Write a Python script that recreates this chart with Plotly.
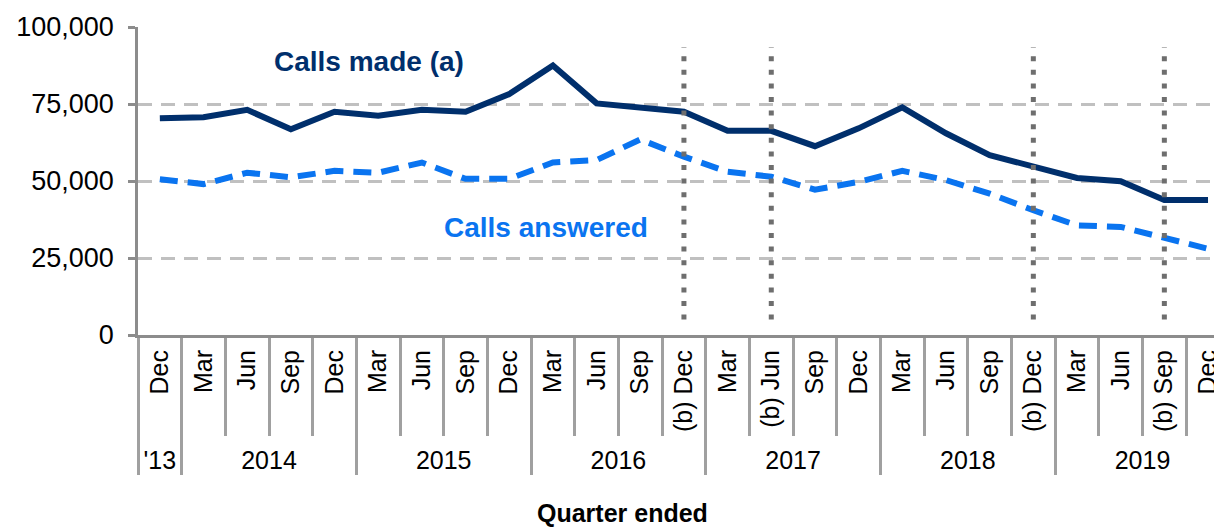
import plotly.graph_objects as go

# ---- data ----
year_labels = ["'13"] + ["2014"] * 4 + ["2015"] * 4 + ["2016"] * 4 + ["2017"] * 4 + ["2018"] * 4 + ["2019"] * 4
quarter_labels = ["Dec",
                  "Mar", "Jun", "Sep", "Dec",
                  "Mar", "Jun", "Sep", "Dec",
                  "Mar", "Jun", "Sep", "(b) Dec",
                  "Mar", "(b) Jun", "Sep", "Dec",
                  "Mar", "Jun", "Sep", "(b) Dec",
                  "Mar", "Jun", "(b) Sep", "Dec"]
calls_made = [70400, 70700, 73100, 66800, 72500, 71200, 73100, 72500, 78200, 87500,
              75200, 73900, 72500, 66300, 66300, 61300, 67100, 73900, 65500, 58400,
              54900, 51000, 49900, 43800, 43800]
calls_answered = [50600, 49000, 52700, 51200, 53300, 52700, 56000, 50700, 50700, 56000,
                  56800, 63500, 57900, 53000, 51400, 47200, 49700, 53300, 50300, 45900,
                  40500, 35600, 35100, 31600, 28000]
break_points = [("2016", "(b) Dec"), ("2017", "(b) Jun"), ("2018", "(b) Dec"), ("2019", "(b) Sep")]
break_span = [5000, 93500]
y_ticks = [0, 25000, 50000, 75000, 100000]

# ---- derived positions from the category lists ----
idx = list(range(len(quarter_labels)))
groups = []
for i, yr in enumerate(year_labels):
    if groups and groups[-1][0] == yr:
        groups[-1][2] = i
    else:
        groups.append([yr, i, i])
year_names = [g[0] for g in groups]
year_centers = [(g[1] + g[2]) / 2 for g in groups]
group_bounds = [g[1] - 0.5 for g in groups] + [groups[-1][2] + 0.5]
quarter_bounds = [i - 0.5 for i in idx] + [idx[-1] + 0.5]
pairs = list(zip(year_labels, quarter_labels))
break_idx = [pairs.index(bp) for bp in break_points]

FONT = "Liberation Sans, Arial, sans-serif"
NAVY = "#002F6C"
BLUE = "#0A74F0"
GREY = "#A0A0A0"
AXIS = "#8C8C8C"

fig = go.Figure()
fig.add_trace(go.Scatter(x=idx, y=calls_made, mode="lines",
                         line=dict(color=NAVY, width=6), name="Calls made (a)"))
fig.add_trace(go.Scatter(x=idx, y=calls_answered, mode="lines",
                         line=dict(color=BLUE, width=6, dash="18px,10px"),
                         name="Calls answered"))
for bi in break_idx:
    fig.add_trace(go.Scatter(x=[bi, bi], y=break_span, mode="lines", xaxis="x2", yaxis="y",
                             line=dict(color="#6E6E6E", width=5, dash="5px,8.6px"),
                             hoverinfo="skip"))

fig.add_annotation(text="<b>Calls made (a)</b>", xref="paper", yref="y", x=0.2131, y=88700,
                   xanchor="center", yanchor="middle", showarrow=False,
                   font=dict(family=FONT, size=28, color=NAVY))
fig.add_annotation(text="<b>Calls answered</b>", xref="paper", yref="y", x=0.3764, y=34800,
                   xanchor="center", yanchor="middle", showarrow=False,
                   font=dict(family=FONT, size=28, color=BLUE))
fig.add_annotation(text="<b>Quarter ended</b>", xref="paper", yref="paper", x=0.447, y=0.03,
                   xanchor="center", yanchor="middle", showarrow=False,
                   font=dict(family=FONT, size=25, color="black"))

XR = [-0.5, 24.32]
fig.update_layout(
    width=1214, height=520,
    margin=dict(l=130, r=0, t=19, b=0),
    paper_bgcolor="white", plot_bgcolor="white",
    font=dict(family=FONT, color="black"),
    showlegend=False,
    xaxis=dict(
        range=XR, anchor="y", tickmode="array", tickvals=idx, ticktext=quarter_labels,
        tickangle=-90, ticks="", showline=True, linecolor=AXIS, linewidth=3,
        tickfont=dict(family=FONT, size=25, color="black"),
        ticklabelstandoff=2, ticklabeloverflow="allow",
        minor=dict(tickmode="array", tickvals=quarter_bounds, ticks="outside",
                   ticklen=98, tickcolor=GREY, tickwidth=3, showgrid=False),
        showgrid=False, zeroline=False, automargin=False,
    ),
    xaxis2=dict(
        range=XR, overlaying="x", anchor="free", position=0.1896, side="bottom",
        tickmode="array", tickvals=year_centers, ticktext=year_names, tickangle=0,
        ticks="", showline=False, tickfont=dict(family=FONT, size=25, color="black"),
        ticklabelstandoff=10,
        minor=dict(tickmode="array", tickvals=group_bounds, ticks="outside",
                   ticklen=41, tickcolor=GREY, tickwidth=3, showgrid=False),
        showgrid=False, zeroline=False, automargin=False,
    ),
    yaxis=dict(
        domain=[0.3852, 1], range=[0, 100000], tickvals=y_ticks, tickformat=",",
        showgrid=True, gridcolor="#C0C0C0", gridwidth=2.5, griddash="14px,9px",
        showline=True, linecolor=AXIS, linewidth=2.5,
        ticks="outside", ticklen=7, tickcolor=AXIS, tickwidth=2.5,
        tickfont=dict(family=FONT, size=27, color="black"),
        ticklabelstandoff=9, zeroline=False, automargin=False,
    ),
)

fig.write_html("out.html")
